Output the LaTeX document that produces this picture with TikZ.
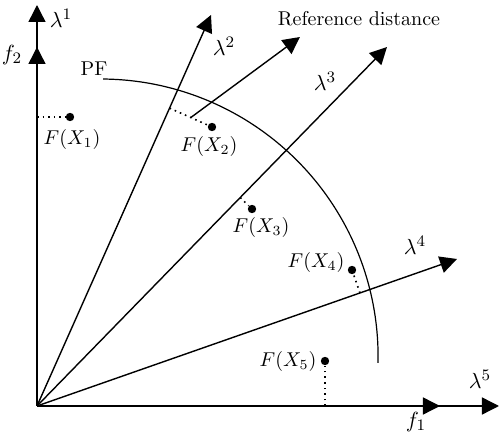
\documentclass[tikz,border=0pt]{standalone}
\usetikzlibrary{arrows.meta,calc}
\begin{document}
\begin{tikzpicture}[x=0.5pt,y=-0.5pt,
  ax/.style={line width=0.7pt,-{Triangle[length=8.5pt,width=8.5pt]}},
  pfarc/.style={line width=0.6pt},
  proj/.style={dotted,line width=0.8pt},
  pt/.style={circle,fill=black,inner sep=0pt,minimum size=4.2pt},
  lab/.style={inner sep=0pt},
  wlab/.style={inner sep=0pt,font=\fontsize{11}{13}\selectfont}]
\useasboundingbox (0,0) rectangle (500,444);
\coordinate (O) at (37,406);
\coordinate (l1) at (37,5);
\coordinate (f2) at (37,47);
\coordinate (l2) at (211,15);
\coordinate (l3) at (387,47);
\coordinate (l4) at (457,259);
\coordinate (l5) at (499,406);
\coordinate (f1) at (440,406);
\coordinate (rd) at (300,37);
\coordinate (c) at (100.6,356.5);
% axes and weight vectors
\draw[ax] (O) -- (f2);
\draw[ax] (O) -- (l1);
\draw[ax] (O) -- (f1);
\draw[ax] (O) -- (l5);
\draw[ax] (O) -- (l2);
\draw[ax] (O) -- (l3);
\draw[ax] (O) -- (l4);
% Pareto front
\draw[pfarc] ([shift={(89.5:138.75pt)}]c) arc[start angle=89.5,end angle=-1.3,radius=138.75pt];
% solutions
\node[pt] (x1) at (70,117) {};
\node[pt] (x2) at (212,127) {};
\node[pt] (x3) at (252,209) {};
\node[pt] (x4) at (352,270) {};
\node[pt] (x5) at (325,361) {};
\coordinate (p1) at ($(O)!(x1)!(l1)$);
\coordinate (p2) at ($(O)!(x2)!(l2)$);
\coordinate (p3) at ($(O)!(x3)!(l3)$);
\coordinate (p4) at ($(O)!(x4)!(l4)$);
\coordinate (p5) at ($(O)!(x5)!(l5)$);
\draw[proj] (p1) -- (x1);
\draw[proj] (p2) -- (x2);
\draw[proj] (p3) -- (x3);
\draw[proj] (p4) -- (x4);
\draw[proj] (p5) -- (x5);
\coordinate (m2) at ($(p2)!0.5!(x2)$);
\draw[ax] (m2) -- (rd);
% labels
\node[wlab] (tl1) at (61,18) {$\lambda^1$};
\node[wlab] (tf2) at (12,55) {$f_2$};
\node[lab] (tpf) at (94,69) {PF};
\node[wlab] (tl2) at (224,46) {$\lambda^2$};
\node[lab] (trd) at (359,19) {Reference distance};
\node[wlab] (tl3) at (325,81) {$\lambda^3$};
\node[wlab] (tl4) at (415,245) {$\lambda^4$};
\node[wlab] (tl5) at (480,379) {$\lambda^5$};
\node[wlab] (tf1) at (416,422) {$f_1$};
\node[lab] (tx1) at (72,140) {$F(X_1)$};
\node[lab] (tx2) at (209,147) {$F(X_2)$};
\node[lab] (tx3) at (261,228) {$F(X_3)$};
\node[lab] (tx4) at (316,263) {$F(X_4)$};
\node[lab] (tx5) at (288,362) {$F(X_5)$};
\end{tikzpicture}
\end{document}
